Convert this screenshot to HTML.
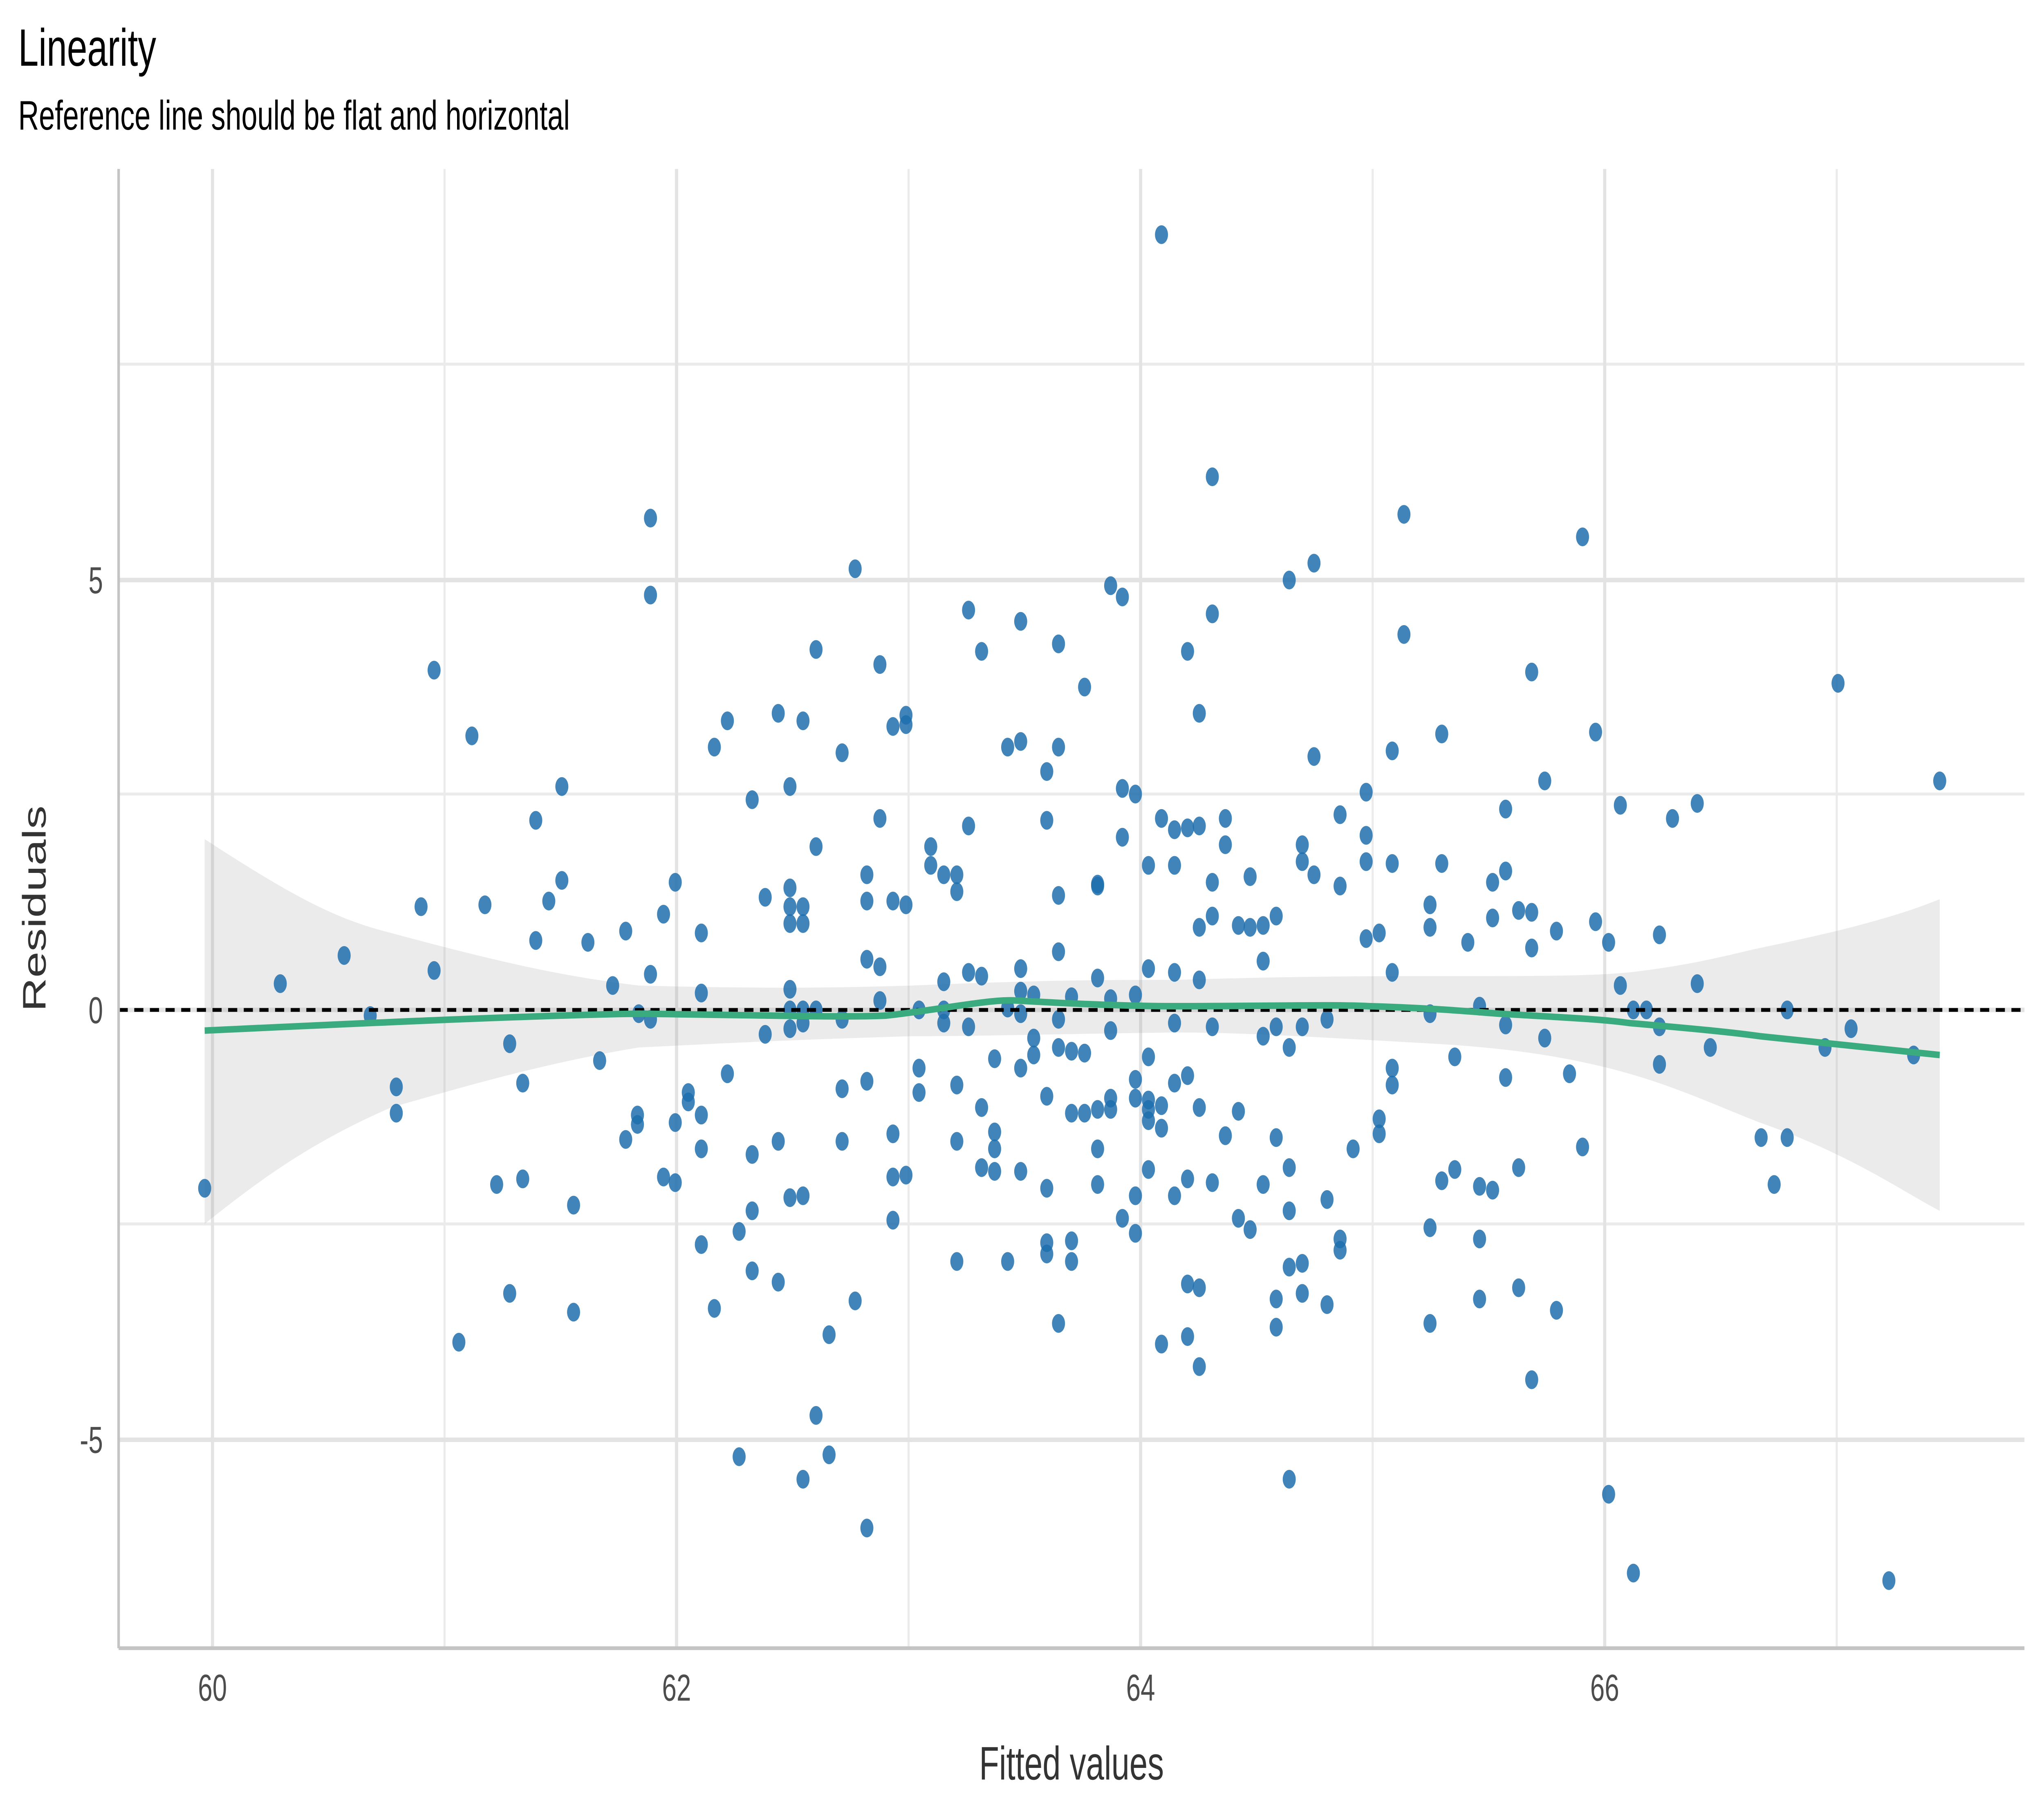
<!DOCTYPE html>
<html><head><meta charset="utf-8"><style>html,body{margin:0;padding:0;background:#fff;width:100%;height:100%;overflow:hidden;}svg{display:block;position:fixed;left:0;top:0;width:100vw;height:100vh}</style></head>
<body>
<svg viewBox="0 0 1568 969" preserveAspectRatio="none" xmlns="http://www.w3.org/2000/svg" font-family="Liberation Sans, Arial, sans-serif">
<rect width="1568" height="969" fill="#fff"/>
<g stroke="#ebebeb" stroke-width="1.6">
<line x1="91" x2="1553" y1="194" y2="194"/><line x1="91" x2="1553" y1="423" y2="423"/><line x1="91" x2="1553" y1="652" y2="652"/>
<line x1="341" x2="341" y1="90" y2="878"/><line x1="697" x2="697" y1="90" y2="878"/><line x1="1053" x2="1053" y1="90" y2="878"/><line x1="1409" x2="1409" y1="90" y2="878"/>
</g>
<g stroke="#e3e3e3" stroke-width="2.4">
<line x1="91" x2="1553" y1="309" y2="309"/><line x1="91" x2="1553" y1="538" y2="538"/><line x1="91" x2="1553" y1="767" y2="767"/>
<line x1="163" x2="163" y1="90" y2="878"/><line x1="519" x2="519" y1="90" y2="878"/><line x1="875" x2="875" y1="90" y2="878"/><line x1="1231" x2="1231" y1="90" y2="878"/>
</g>
<path d="M157,447 C230,480 260,490 300,497 C380,512 430,520 490,525 C600,527 650,526 700,525 C800,522 850,522 900,522 C1000,520 1050,520 1100,520 C1180,520 1220,520 1250,518 C1300,514 1330,508 1350,505 C1420,495 1460,487 1488,479 L1488,645 C1460,635 1420,615 1350,598 C1320,590 1290,580 1250,572 C1200,562 1150,558 1100,556 C1000,552 950,550 900,550 C800,551 750,552 700,552 C600,554 550,556 490,558 C420,566 360,578 300,590 C240,608 200,628 157,652 Z" fill="#999" fill-opacity="0.2"/>
<g id="pts" fill="#1f6fae" fill-opacity="0.85"></g>
<line x1="91" x2="1553" y1="538" y2="538" stroke="#000" stroke-width="2" stroke-dasharray="7,5"/>
<path d="M157,549 C250,546 400,541 490,540 C600,541 650,542 680,541 C720,538 760,532 780,533 C830,535 870,536 900,536 C980,536 1020,535 1050,536 C1100,537 1130,539 1150,540 C1200,542 1230,543 1250,545 C1300,548 1330,550 1350,552 C1420,557 1460,560 1488,562" fill="none" stroke="#3aaa7f" stroke-width="3.5"/>
<line x1="91" x2="91" y1="90" y2="878" stroke="#c4c4c4" stroke-width="2"/>
<line x1="91" x2="1553" y1="878" y2="878" stroke="#c4c4c4" stroke-width="2"/>
<g fill="#4d4d4d" font-size="20">
<text x="163" y="906" text-anchor="middle">60</text><text x="519" y="906" text-anchor="middle">62</text><text x="875" y="906" text-anchor="middle">64</text><text x="1231" y="906" text-anchor="middle">66</text>
<text x="79" y="316" text-anchor="end">5</text><text x="79" y="545" text-anchor="end">0</text><text x="79" y="774" text-anchor="end">-5</text>
</g>
<text x="822" y="948" text-anchor="middle" font-size="25" fill="#333">Fitted values</text>
<text transform="translate(35,484) rotate(-90)" text-anchor="middle" font-size="25" fill="#333">Residuals</text>
<text x="14" y="35" font-size="28" fill="#000">Linearity</text>
<text x="14" y="69" font-size="22" fill="#000">Reference line should be flat and horizontal</text>
</svg>
<script>
var d=[157,633,215,524,264,509,284,541,304,579,304,593,323,483,333,517,333,357,352,715,362,392,372,482,381,631,391,556,391,689,401,628,401,577,411,437,411,501,421,480,431,419,431,469,440,699,440,642,451,502,460,565,470,525,480,607,480,496,489,594,489,599,490,540,499,276,499,317,499,519,499,543,509,487,509,627,518,470,518,598,518,630,528,582,528,587,538,497,538,529,538,594,538,612,538,663,548,398,548,697,558,384,558,572,567,656,567,776,577,426,577,615,577,645,577,677,587,478,587,551,597,380,597,608,597,683,606,419,606,473,606,483,606,492,606,527,606,538,606,548,606,638,616,384,616,483,616,492,616,538,616,545,616,637,616,788,626,346,626,451,626,538,626,754,636,711,636,775,646,401,646,543,646,580,646,608,656,303,656,693,665,466,665,480,665,511,665,576,665,814,675,354,675,436,675,515,675,533,685,387,685,480,685,604,685,627,685,650,695,381,695,386,695,482,695,626,705,538,705,582,705,569,714,451,714,461,724,466,724,523,724,538,724,545,734,466,734,475,734,578,734,608,734,672,743,325,743,440,743,518,743,547,753,347,753,520,753,590,753,622,763,564,763,603,763,612,763,624,773,398,773,537,773,672,783,331,783,395,783,516,783,528,783,540,783,569,783,624,793,530,793,553,793,562,803,411,803,437,803,584,803,633,803,662,803,668,812,343,812,398,812,477,812,507,812,543,812,558,812,705,822,531,822,560,822,593,822,661,822,672,832,366,832,561,832,593,842,471,842,521,842,591,842,612,842,631,842,472,852,312,852,532,852,549,852,585,852,591,861,318,861,420,861,446,861,649,871,423,871,530,871,575,871,585,871,637,871,657,881,461,881,516,881,563,881,586,881,591,881,597,881,623,891,125,891,436,891,589,891,601,891,716,901,442,901,461,901,518,901,545,901,577,901,637,911,347,911,441,911,573,911,628,911,684,911,712,920,380,920,440,920,494,920,522,920,590,920,686,920,728,930,254,930,327,930,470,930,488,930,547,930,630,940,436,940,450,940,605,950,493,950,592,950,649,959,494,959,467,959,655,969,493,969,512,969,552,969,631,979,488,979,547,979,606,979,692,979,707,989,309,989,558,989,622,989,645,989,675,989,788,999,450,999,459,999,547,999,673,999,689,1008,300,1008,403,1008,466,1018,543,1018,639,1018,695,1028,434,1028,472,1028,660,1028,666,1038,612,1048,422,1048,445,1048,459,1048,500,1058,497,1058,596,1058,604,1068,400,1068,460,1068,518,1068,569,1068,578,1077,274,1077,338,1097,482,1097,494,1097,540,1097,654,1097,705,1106,391,1106,460,1106,629,1116,563,1116,623,1126,502,1135,536,1135,632,1135,660,1135,692,1145,470,1145,489,1145,634,1155,431,1155,464,1155,546,1155,574,1165,485,1165,622,1165,686,1175,358,1175,486,1175,505,1175,735,1185,416,1185,553,1194,496,1194,698,1204,572,1214,286,1214,611,1224,390,1224,491,1234,502,1234,796,1243,429,1243,525,1253,838,1253,538,1263,538,1273,498,1273,547,1273,567,1283,436,1302,428,1302,524,1312,558,1351,606,1361,631,1371,538,1371,606,1400,558,1410,364,1420,548,1468,562,1488,416,1449,842];
var g=document.getElementById('pts'),h='';
for(var i=0;i<d.length;i+=2){h+='<circle cx="'+d[i]+'" cy="'+d[i+1]+'" r="5"/>';}
g.innerHTML=h;
</script>
</body></html>
